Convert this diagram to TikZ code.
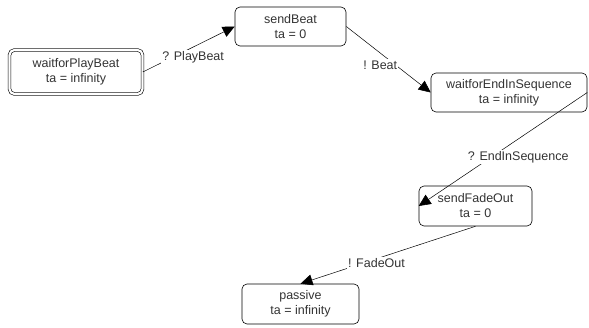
\documentclass[tikz,border=0pt]{standalone}
\usepackage{fontspec}
\setmainfont{Liberation Sans}
\usetikzlibrary{arrows.meta}

\tikzset{
  state/.style={draw, rounded corners=5pt, align=center, inner sep=2pt,
    line width=0.6pt, text=black!80, font=\fontsize{12.5}{15}\selectfont},
  initstate/.style={state, double, double distance=2.2pt},
  trans/.style={-{Triangle[length=12pt,width=11pt]}, line width=0.5pt},
  lbl/.style={fill=white, inner sep=1pt, text=black!80,
    font=\fontsize{12.5}{15}\selectfont}
}

\begin{document}
\begin{tikzpicture}[x=1pt, y=-1pt]
            \useasboundingbox (0,0) rectangle (589,328);

            % Define nodes
            \node[initstate, minimum width=133pt, minimum height=44pt] (wpb) at (76,72)    {waitforPlayBeat\\ta = infinity};
            \node[state, minimum width=111pt, minimum height=39pt]     (sb)  at (290.5,26.5) {sendBeat\\ta = 0};
            \node[state, minimum width=156pt, minimum height=39pt]     (wes) at (509,92.5)  {waitforEndInSequence\\ta = infinity};
            \node[state, minimum width=113pt, minimum height=40pt]     (sfo) at (475.5,206) {sendFadeOut\\ta = 0};
            \node[state, minimum width=117pt, minimum height=40pt]     (pas) at (300.5,304) {passive\\ta = infinity};

            % Connect the nodes
            \draw[trans] (wpb.east) -- node[lbl, pos=0.33, xshift=20pt]  {? PlayBeat}      (sb.west);
            \draw[trans] (sb.east)  -- node[lbl, pos=0.58, xshift=-15pt] {! Beat}          (wes.west);
            \draw[trans] (wes.east) -- node[lbl, pos=0.57, xshift=27pt]  {? EndInSequence} (sfo.west);
            \draw[trans] (sfo.south) -- node[lbl, pos=0.64, xshift=13pt] {! FadeOut}       (pas.north);
          \end{tikzpicture}
\end{document}
